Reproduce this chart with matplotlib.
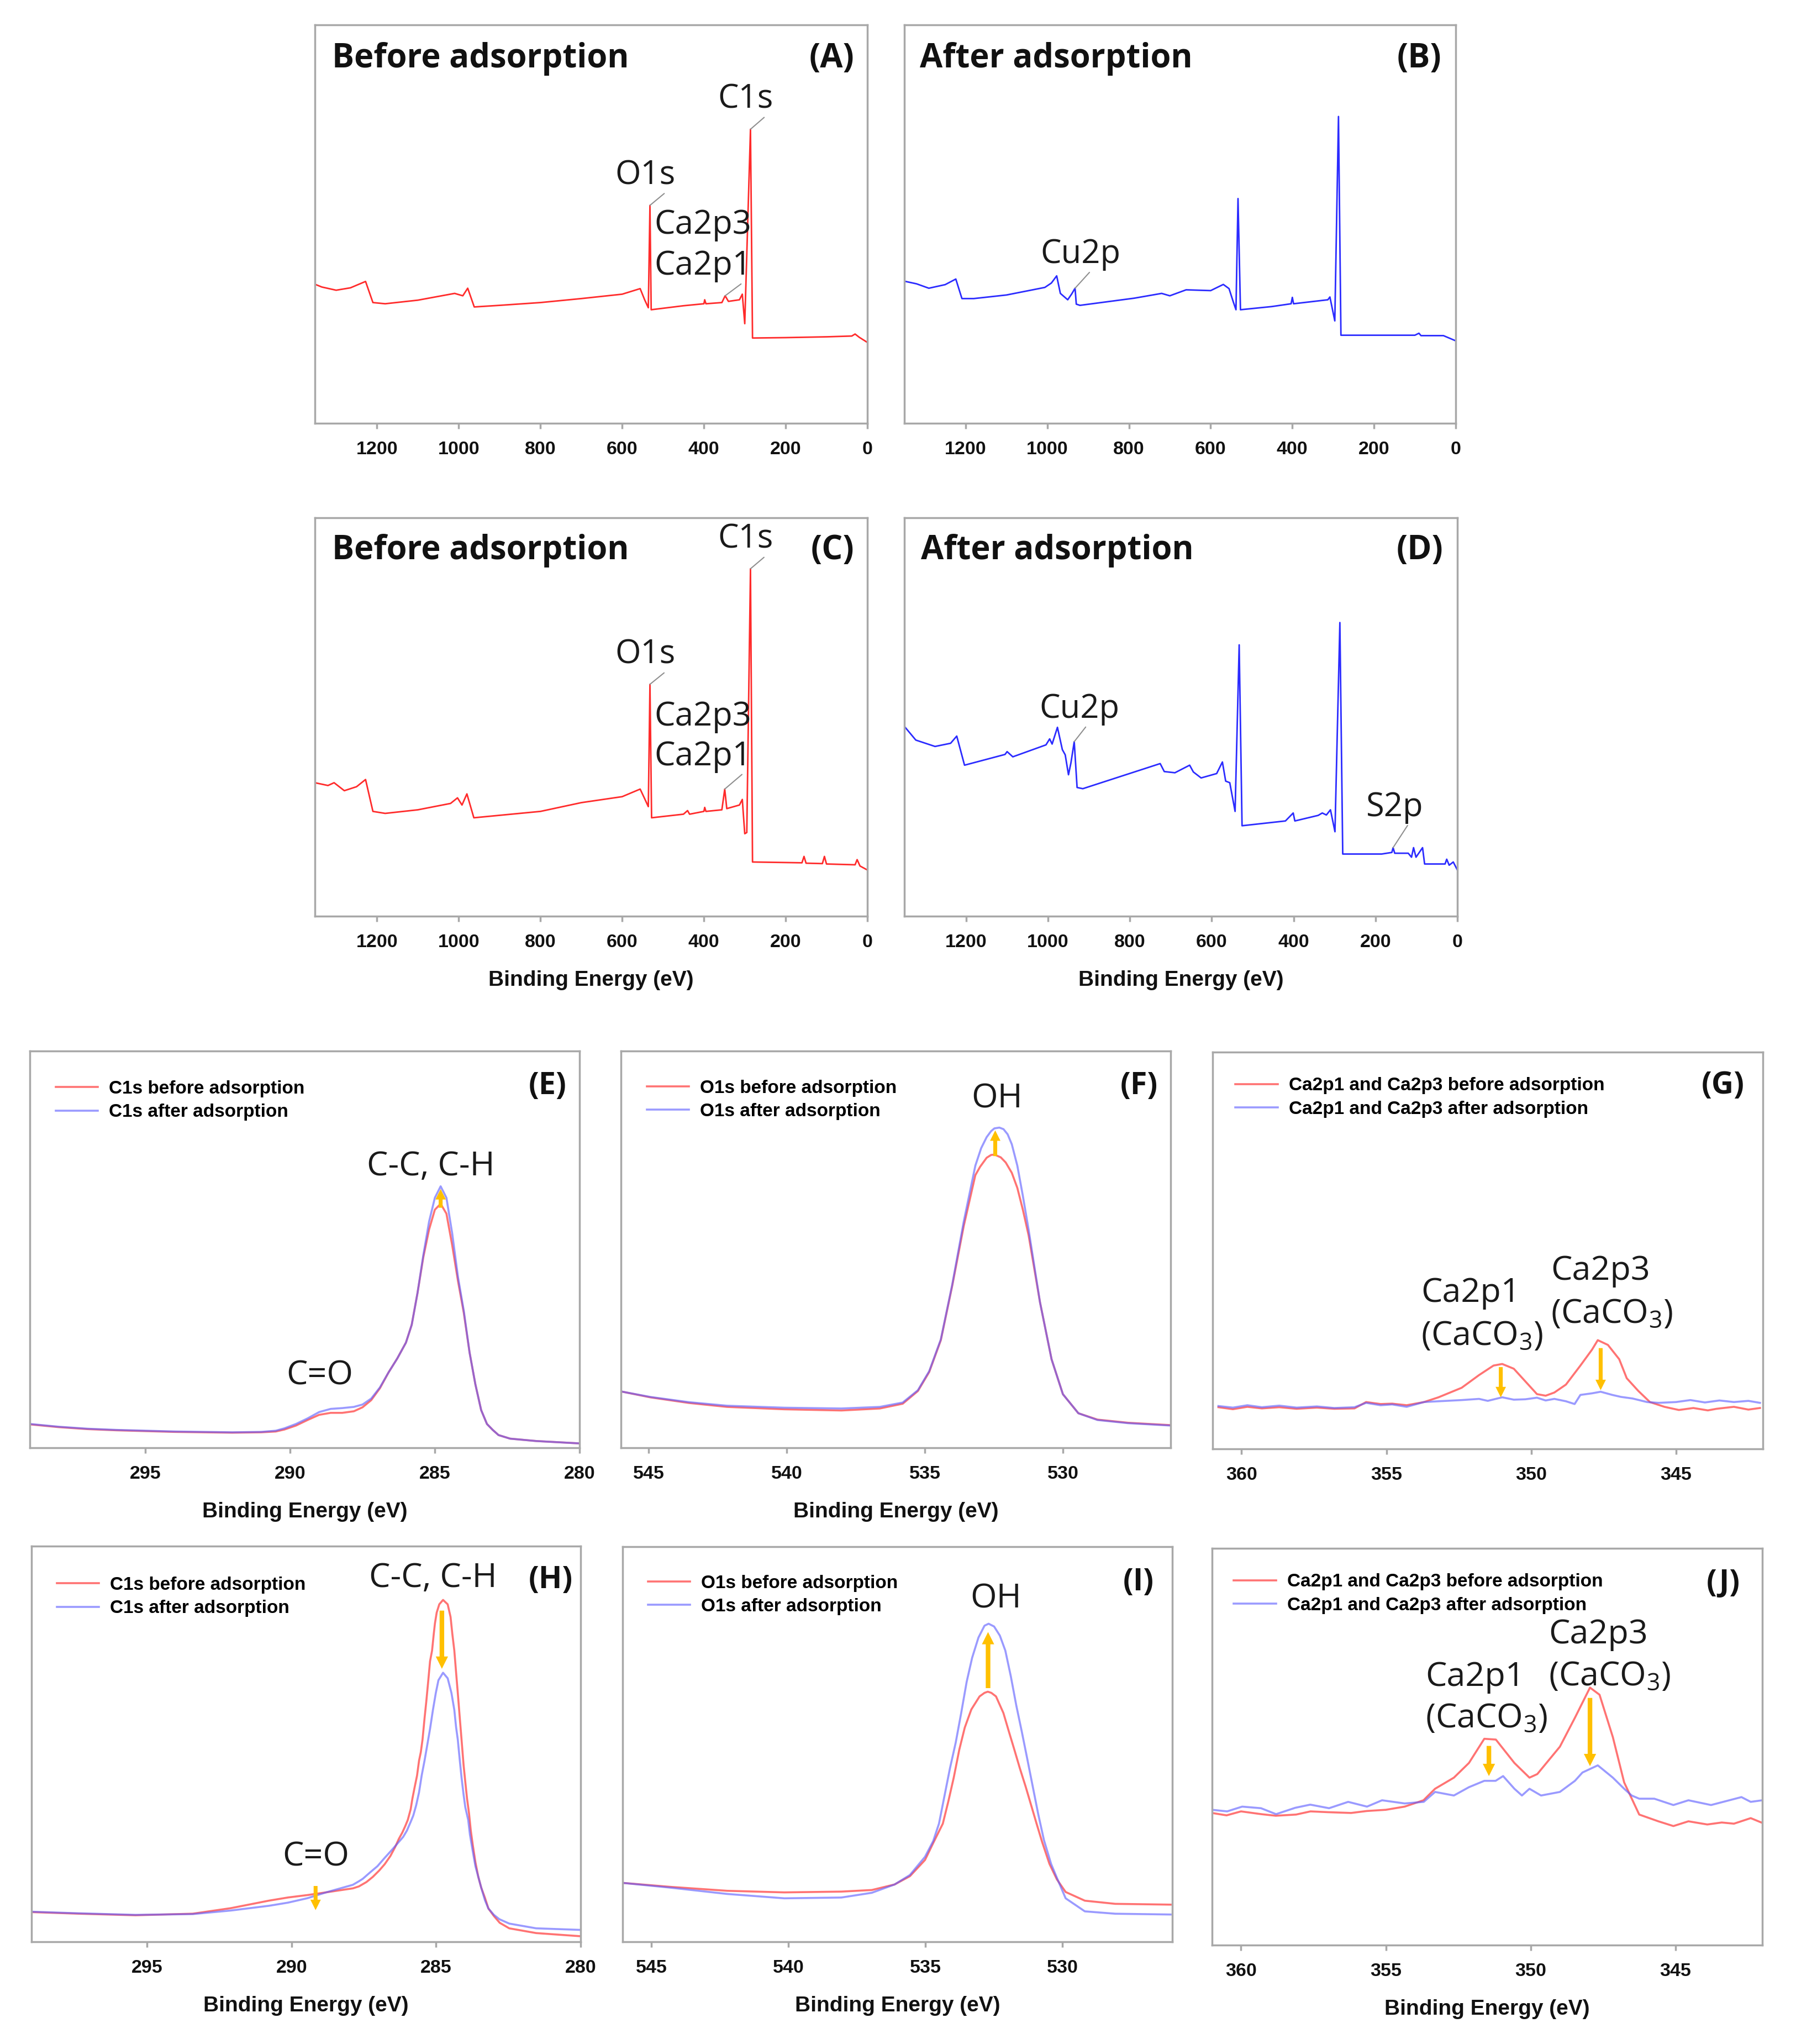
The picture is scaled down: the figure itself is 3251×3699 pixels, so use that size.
import numpy as np
import matplotlib
matplotlib.use("Agg")
import matplotlib.pyplot as plt

plt.rcParams["font.family"] = ["Liberation Sans", "DejaVu Sans"]
plt.rcParams["mathtext.fontset"] = "custom"
plt.rcParams["mathtext.rm"] = "Open Sans"
plt.rcParams["mathtext.it"] = "Open Sans"
plt.rcParams["mathtext.bf"] = "Open Sans:bold"

# ---------------- survey spectra: (binding energy eV, intensity a.u.) ----------------
survey_a = [(1352, 34.9), (1335, 34.2), (1300, 33.4), (1265, 34.0), (1228, 35.6), (1210, 30.3),
            (1180, 30.0), (1100, 30.9), (1010, 32.6), (990, 32.0), (978, 33.9), (962, 29.2),
            (900, 29.6), (800, 30.3), (700, 31.3), (600, 32.4), (556, 33.8), (545, 31.0),
            (536, 29.0), (532, 54.7), (529, 28.5), (450, 29.5), (400, 30.0), (398, 31.0),
            (395, 30.0), (356, 30.3), (348, 32.0), (340, 30.6), (313, 31.0), (306, 32.4),
            (300, 25.0), (286, 73.8), (281, 21.4), (200, 21.5), (100, 21.7), (38, 21.9),
            (30, 22.4), (20, 21.6), (0, 20.3)]
survey_b = [(1347, 35.6), (1320, 35.0), (1290, 33.9), (1250, 34.8), (1224, 36.2), (1209, 31.3),
            (1180, 31.3), (1100, 32.2), (1006, 34.1), (990, 35.2), (977, 37.0), (968, 32.6),
            (950, 31.0), (940, 32.5), (932, 33.9), (929, 29.9), (920, 29.6), (787, 31.4),
            (720, 32.6), (700, 32.0), (660, 33.5), (600, 33.3), (569, 34.85), (555, 33.8),
            (545, 30.6), (538, 28.5), (533, 56.4), (527, 28.5), (450, 29.3), (403, 30.0),
            (400, 31.6), (397, 30.0), (313, 31.0), (308, 31.7), (296, 25.7), (287, 77.0),
            (281, 22.1), (100, 22.1), (90, 22.6), (85, 22.0), (30, 22.0), (0, 20.7)]
survey_c = [(1352, 33.5), (1320, 32.8), (1305, 33.5), (1280, 31.5), (1250, 32.5), (1228, 34.3),
            (1210, 26.3), (1180, 25.8), (1100, 26.7), (1020, 28.3), (1003, 29.7), (992, 27.9),
            (980, 30.7), (963, 24.7), (800, 26.3), (700, 28.5), (600, 30.0), (556, 31.9),
            (545, 29.5), (536, 27.5), (532, 58.2), (528, 24.7), (450, 25.6), (440, 26.5),
            (435, 25.6), (400, 26.3), (398, 27.3), (395, 26.3), (356, 26.7), (349, 31.9),
            (344, 27.0), (313, 27.9), (306, 29.3), (300, 20.7), (295, 21.0), (286, 87.2),
            (281, 13.6), (160, 13.4), (155, 15.0), (150, 13.3), (110, 13.2), (105, 15.0),
            (100, 13.1), (30, 12.9), (25, 14.2), (18, 12.6), (0, 11.6)]
survey_d = [(1349, 47.4), (1323, 44.2), (1276, 42.6), (1238, 43.4), (1223, 45.2), (1204, 37.9),
            (1105, 40.6), (1100, 41.3), (1086, 40.0), (1005, 43.0), (996, 44.5), (990, 43.2),
            (977, 47.4), (965, 41.8), (958, 40.5), (950, 35.5), (944, 38.5), (936, 43.8),
            (929, 32.3), (915, 32.0), (726, 38.3), (716, 36.3), (690, 36.0), (654, 37.9),
            (645, 36.2), (626, 34.7), (588, 35.8), (574, 38.7), (566, 33.9), (556, 33.5),
            (543, 26.3), (533, 68.1), (526, 22.7), (420, 23.9), (401, 25.9), (397, 23.9),
            (340, 25.3), (330, 25.9), (320, 25.4), (310, 26.7), (299, 21.2), (287, 73.7),
            (280, 15.6), (185, 15.6), (160, 16.0), (157, 17.2), (153, 15.8), (120, 15.8),
            (112, 14.8), (107, 17.2), (101, 14.8), (85, 17.2), (80, 13.1), (30, 13.1),
            (26, 14.3), (20, 12.8), (10, 13.6), (0, 11.6)]

# ---------------- high resolution spectra ----------------
c1s_e_before = [(299.0, 5.9), (298.0, 5.2), (297.0, 4.7), (296.0, 4.4), (295.0, 4.2), (294.0, 4.0),
                (293.0, 3.9), (292.0, 3.8), (291.0, 3.9), (290.5, 4.1), (290.2, 4.6), (289.8, 5.6),
                (289.4, 7.0), (289.0, 8.3), (288.6, 8.8), (288.2, 8.8), (287.8, 9.2), (287.5, 10.2),
                (287.2, 12.0), (286.9, 15.0), (286.6, 19.0), (286.3, 22.5), (286.0, 26.5), (285.8, 31.0),
                (285.6, 39.0), (285.4, 48.0), (285.2, 55.0), (285.0, 60.0), (284.8, 61.5), (284.6, 59.0),
                (284.4, 51.0), (284.2, 42.0), (284.0, 34.0), (283.8, 24.0), (283.6, 16.0), (283.4, 9.5),
                (283.2, 6.0), (283.0, 4.5), (282.8, 3.2), (282.4, 2.3), (281.5, 1.7), (280.5, 1.3),
                (280.0, 1.1)]
c1s_e_after = [(299.0, 6.0), (298.0, 5.3), (297.0, 4.8), (296.0, 4.5), (295.0, 4.3), (294.0, 4.1),
               (293.0, 4.0), (292.0, 3.9), (291.0, 4.0), (290.5, 4.3), (290.2, 4.9), (289.8, 6.0),
               (289.4, 7.4), (289.0, 9.0), (288.6, 9.8), (288.2, 10.0), (287.8, 10.3), (287.5, 10.9),
               (287.2, 12.4), (286.9, 15.2), (286.6, 19.0), (286.3, 22.5), (286.0, 26.5), (285.8, 31.0),
               (285.6, 39.0), (285.4, 48.5), (285.2, 57.0), (285.0, 63.0), (284.8, 65.9), (284.6, 63.0),
               (284.4, 54.0), (284.2, 43.0), (284.0, 34.5), (283.8, 24.0), (283.6, 16.0), (283.4, 9.5),
               (283.2, 6.0), (283.0, 4.5), (282.8, 3.2), (282.4, 2.3), (281.5, 1.7), (280.5, 1.3),
               (280.0, 1.1)]
o1s_f_before = [(546.0, 14.2), (544.93, 12.7), (543.55, 11.3), (542.16, 10.3), (540.09, 9.7),
                (538.02, 9.4), (536.63, 9.9), (535.8, 11.1), (535.25, 14.3), (534.84, 19.1),
                (534.42, 27.1), (534.01, 40.7), (533.59, 55.9), (533.17, 68.7), (533.0, 70.8),
                (532.76, 73.1), (532.6, 73.8), (532.48, 73.9), (532.25, 73.2), (532.07, 71.9),
                (531.85, 69.3), (531.65, 65.5), (531.45, 60.0), (531.24, 53.5), (530.83, 36.7),
                (530.41, 22.3), (530.0, 13.5), (529.44, 8.7), (528.75, 7.1), (527.64, 6.3),
                (526.1, 5.7)]
o1s_f_after = [(546.0, 14.2), (544.93, 12.8), (543.55, 11.5), (542.16, 10.6), (540.09, 10.1),
               (538.02, 9.9), (536.63, 10.3), (535.8, 11.4), (535.25, 14.5), (534.84, 19.3),
               (534.42, 27.3), (534.01, 41.0), (533.59, 57.0), (533.17, 71.1), (532.96, 75.5),
               (532.76, 78.3), (532.6, 79.8), (532.48, 80.5), (532.3, 80.7), (532.15, 80.3),
               (532.0, 79.0), (531.85, 76.5), (531.65, 71.1), (531.45, 63.5), (531.24, 54.9),
               (530.83, 36.7), (530.41, 22.3), (530.0, 13.5), (529.44, 8.7), (528.75, 7.0),
               (527.64, 6.2), (526.1, 5.6)]
ca_g_before = [(360.8, 10.5), (360.3, 10.0), (359.8, 10.6), (359.3, 10.2), (358.7, 10.5), (358.1, 10.1),
               (357.4, 10.4), (356.8, 10.1), (356.1, 10.2), (355.7, 11.8), (355.2, 11.3), (354.8, 11.4),
               (354.3, 11.0), (353.7, 11.8), (353.2, 13.0), (352.4, 15.4), (351.8, 18.6), (351.3, 21.0),
               (351.0, 21.4), (350.6, 20.2), (350.2, 17.0), (349.8, 13.8), (349.5, 13.4), (349.2, 14.2),
               (348.8, 16.2), (348.3, 21.0), (347.9, 25.0), (347.7, 27.4), (347.35, 26.2), (346.96, 22.6),
               (346.7, 17.8), (346.3, 14.6), (345.9, 11.8), (345.4, 10.6), (344.9, 9.8), (344.4, 10.3),
               (343.9, 9.7), (343.6, 10.1), (343.0, 10.6), (342.5, 9.9), (342.1, 10.3)]
ca_g_after = [(360.8, 10.8), (360.3, 10.4), (359.8, 11.0), (359.3, 10.5), (358.7, 10.9), (358.1, 10.4),
              (357.4, 10.7), (356.8, 10.3), (356.1, 10.5), (355.7, 11.6), (355.2, 11.0), (354.8, 11.2),
              (354.3, 10.6), (353.7, 11.8), (353.2, 12.0), (352.4, 12.3), (351.8, 12.6), (351.5, 12.1),
              (351.0, 13.0), (350.6, 12.4), (350.2, 12.5), (349.8, 12.9), (349.5, 12.2), (349.2, 12.6),
              (348.8, 12.0), (348.5, 11.3), (348.3, 13.6), (347.9, 14.0), (347.6, 14.4), (347.2, 13.6),
              (346.9, 13.1), (346.5, 12.7), (346.0, 11.8), (345.6, 11.6), (345.0, 11.8), (344.5, 12.3),
              (344.0, 11.7), (343.5, 12.2), (343.0, 11.8), (342.5, 12.1), (342.1, 11.6)]

c1s_h_before = [(299.0, 7.5), (297.38, 7.1), (295.4, 6.7), (293.42, 7.1), (292.1, 8.5), (290.78, 10.4),
                (290.12, 11.2), (289.46, 11.8), (288.8, 12.5), (287.88, 13.5), (287.67, 14.0),
                (287.41, 15.1), (287.19, 16.4), (286.97, 18.0), (286.78, 19.6), (286.58, 21.7),
                (286.42, 23.9), (286.29, 26.0), (286.17, 27.6), (286.07, 29.2), (285.98, 30.8),
                (285.88, 33.5), (285.82, 36.2), (285.75, 38.8), (285.66, 42.0), (285.59, 45.8),
                (285.53, 47.9), (285.47, 51.1), (285.40, 56.5), (285.34, 60.7), (285.27, 66.1),
                (285.21, 70.9), (285.14, 73.6), (285.08, 77.9), (285.04, 80.5), (284.98, 83.2),
                (284.89, 85.3), (284.76, 86.4), (284.60, 85.3), (284.50, 82.1), (284.44, 77.9),
                (284.37, 73.6), (284.31, 68.2), (284.25, 62.9), (284.18, 56.5), (284.12, 51.1),
                (284.05, 44.7), (283.99, 40.4), (283.93, 36.2), (283.86, 32.4), (283.80, 28.1),
                (283.73, 24.4), (283.64, 20.1), (283.54, 16.4), (283.44, 13.7), (283.31, 11.1),
                (283.19, 8.4), (283.0, 6.5), (282.8, 4.8), (282.47, 3.4), (281.54, 2.2), (280.0, 1.4)]
c1s_h_after = [(299.0, 7.6), (297.38, 7.2), (295.4, 6.8), (293.42, 7.0), (292.1, 7.9), (290.78, 9.1),
               (290.12, 9.9), (289.46, 11.0), (288.8, 12.5), (287.88, 14.4), (287.67, 15.3),
               (287.54, 15.9), (287.29, 17.5), (287.03, 19.1), (286.78, 21.2), (286.52, 23.3),
               (286.33, 24.9), (286.14, 26.5), (286.01, 28.1), (285.88, 30.3), (285.79, 31.9),
               (285.69, 34.5), (285.59, 37.8), (285.50, 42.0), (285.40, 45.8), (285.30, 50.0),
               (285.21, 53.8), (285.11, 58.6), (285.01, 62.9), (284.92, 66.1), (284.76, 68.0),
               (284.60, 66.6), (284.47, 62.9), (284.37, 58.6), (284.31, 54.3), (284.25, 51.1),
               (284.18, 45.8), (284.12, 41.5), (284.05, 37.2), (283.99, 34.0), (283.89, 30.8),
               (283.83, 27.1), (283.73, 22.8), (283.64, 19.1), (283.54, 16.4), (283.44, 13.7),
               (283.31, 10.5), (283.19, 8.4), (283.0, 6.8), (282.81, 5.7), (282.47, 4.6),
               (281.54, 3.4), (280.0, 3.0)]
o1s_i_before = [(546.04, 14.9), (544.31, 13.9), (542.23, 12.9), (540.15, 12.5), (538.07, 12.7),
                (536.96, 13.1), (536.13, 14.5), (535.57, 16.6), (535.02, 20.7), (534.72, 25.0),
                (534.37, 29.9), (534.17, 35.5), (533.97, 41.6), (533.77, 48.6), (533.57, 54.2),
                (533.33, 58.8), (533.03, 62.1), (532.85, 63.0), (532.73, 63.3), (532.60, 63.0),
                (532.43, 62.1), (532.16, 57.9), (531.96, 53.2), (531.76, 48.6), (531.56, 43.9),
                (531.35, 39.3), (531.15, 34.6), (530.95, 29.9), (530.75, 25.3), (530.48, 19.7),
                (530.21, 15.8), (529.89, 12.6), (529.19, 10.4), (528.08, 9.6), (526.06, 9.4)]
o1s_i_after = [(546.04, 14.9), (544.31, 13.7), (542.23, 12.1), (540.15, 11.0), (538.07, 11.2),
               (536.96, 12.4), (536.13, 14.5), (535.57, 16.9), (535.02, 21.5), (534.72, 25.5),
               (534.51, 29.9), (534.31, 36.9), (534.11, 43.9), (533.90, 50.4), (533.70, 57.9),
               (533.50, 65.8), (533.30, 71.9), (533.07, 77.0), (532.85, 80.0), (532.70, 80.5),
               (532.50, 79.8), (532.29, 77.5), (532.09, 73.7), (531.89, 67.2), (531.69, 59.8),
               (531.49, 53.2), (531.29, 46.3), (531.09, 39.3), (530.89, 32.3), (530.68, 25.7),
               (530.42, 19.7), (530.21, 16.2), (529.89, 11.0), (529.19, 7.7), (528.08, 7.1),
               (526.06, 6.9)]
ca_j_before = [(361.0, 33.3), (360.5, 32.7), (360.0, 33.7), (359.3, 33.0), (358.8, 32.6), (358.1, 32.9),
               (357.6, 33.7), (357.0, 33.5), (356.2, 33.3), (355.65, 33.8), (355.0, 34.1), (354.35, 34.9),
               (353.7, 36.5), (353.3, 39.4), (352.65, 42.2), (352.13, 45.9), (351.6, 52.0), (351.2, 51.8),
               (350.56, 45.9), (350.04, 42.2), (349.77, 43.1), (348.99, 50.0), (348.47, 57.3),
               (347.95, 64.9), (347.62, 63.1), (347.16, 52.4), (346.77, 41.0), (346.25, 32.9),
               (345.59, 31.2), (345.07, 30.0), (344.55, 31.2), (343.9, 30.4), (343.4, 30.9),
               (342.98, 30.6), (342.4, 32.0), (342.0, 30.8)]
ca_j_after = [(361.0, 34.1), (360.48, 33.7), (359.96, 34.9), (359.31, 34.5), (358.79, 33.0), (358.13, 34.6),
              (357.61, 35.4), (356.96, 34.5), (356.3, 36.1), (355.65, 34.9), (355.13, 36.5), (354.35, 35.7),
              (353.69, 36.1), (353.3, 38.6), (352.65, 37.7), (352.13, 39.8), (351.6, 41.4), (351.21, 41.4),
              (350.95, 42.6), (350.56, 39.4), (350.3, 37.7), (350.04, 39.4), (349.64, 37.7), (348.99, 38.6),
              (348.47, 41.4), (348.21, 43.5), (347.68, 45.3), (347.16, 42.2), (346.77, 39.4), (346.51, 37.7),
              (346.25, 36.9), (345.73, 36.9), (345.07, 35.3), (344.55, 36.5), (343.77, 35.3), (342.72, 37.3),
              (342.4, 36.1), (342.0, 36.5)]

# ---------------- text ----------------
survey_ticks = [1200, 1000, 800, 600, 400, 200, 0]
c1s_ticks = [295, 290, 285, 280]
o1s_ticks = [545, 540, 535, 530]
ca_ticks = [360, 355, 350, 345]
xlab = "Binding Energy (eV)"
leg_c1s = ["C1s before adsorption", "C1s after adsorption"]
leg_o1s = ["O1s before adsorption", "O1s after adsorption"]
leg_ca = ["Ca2p1 and Ca2p3 before adsorption", "Ca2p1 and Ca2p3 after adsorption"]

# survey peak labels: text, text position, peak position, where the leader leaves the text
labels_a = [("C1s", (365.6, 79.1), (286, 73.8), (0.97, 0.15)),
            ("O1s", (617, 60.0), (532, 54.7), (0.93, 0.13)),
            ("Ca2p3", (521.6, 47.6), None, None),
            ("Ca2p1", (521.6, 37.3), (348, 32.0), (0.97, 0.12))]
labels_b = [("Cu2p", (1017, 40.2), (932, 33.9), (0.66, 0.08))]
labels_c = [("C1s", (365.6, 92.4), (286, 87.2), (0.97, 0.15)),
            ("O1s", (617, 63.4), (532, 58.2), (0.93, 0.13)),
            ("Ca2p3", (521.6, 47.9), None, None),
            ("Ca2p1", (521.6, 37.9), (349, 31.9), (0.97, 0.12))]
labels_d = [("Cu2p", (1021.6, 49.8), (936, 43.8), (0.64, 0.14)),
            ("S2p", (223, 25.1), (157, 17.2), (0.75, 0.02))]

W, H = 3251, 3699
GRAY = "#a8a8a8"
LEAD = "#8f8f8f"
TXT = "#1a1a1a"
YEL = "#ffc000"
RED_S, BLUE_S = "#ff2b2b", "#2b2bff"
RED_H, BLUE_H = "#ff7373", "#5c5cff"

fig = plt.figure(figsize=(W / 100, H / 100), dpi=100)


def make_ax(l, t, r, b):
    return fig.add_axes([l / W, 1 - b / H, (r - l) / W, (b - t) / H])


def frame(ax, xlim, ticks, with_label):
    ax.set_xlim(xlim)
    ax.set_ylim(0, 100)
    ax.set_xticks(ticks, labels=[str(t) for t in ticks], fontweight="bold")
    ax.set_yticks([])
    for s in ax.spines.values():
        s.set_color(GRAY)
        s.set_linewidth(2.5)
    ax.tick_params(axis="x", direction="out", length=7, width=2.5, color=GRAY,
                   pad=16, labelsize=24.5, labelcolor="#111111")
    if with_label:
        ax.set_xlabel(xlab, fontsize=28, fontweight="bold", labelpad=25, color="#111111")


def corner(ax, title, tag, size, tx, ty):
    if title:
        ax.text(tx, ty, title, transform=ax.transAxes, family="Open Sans", fontweight="bold",
                fontsize=43, ha="left", va="baseline", color="#111111")
    ax.text(tag[0], tag[1], tag[2], transform=ax.transAxes, family="Open Sans", fontweight="bold",
            fontsize=size, ha="right", va="baseline", color="#111111")


def survey(ax, pts, color, labels):
    e, y = np.array(pts).T
    ax.plot(e, y, color=color, lw=2.0)
    for text, txy, pxy, rel in labels:
        if pxy is None:
            ax.text(txy[0], txy[1], text, family="Open Sans", fontsize=43, color=TXT,
                    ha="left", va="baseline")
        else:
            ax.annotate(text, xy=pxy, xytext=txy, family="Open Sans", fontsize=43, color=TXT,
                        ha="left", va="baseline",
                        arrowprops=dict(arrowstyle="-", color=LEAD, lw=1.5, shrinkA=0,
                                        shrinkB=0, relpos=rel))


def pair(ax, before, after, names, anchor):
    e1, y1 = np.array(before).T
    e2, y2 = np.array(after).T
    ax.plot(e1, y1, color=RED_H, lw=2.6, label=names[0])
    ax.plot(e2, y2, color=BLUE_H, lw=2.6, alpha=0.62, label=names[1])
    ax.legend(loc="upper left", bbox_to_anchor=anchor, frameon=False, borderpad=0,
              borderaxespad=0, handlelength=2.3, handletextpad=0.6, labelspacing=0.34,
              prop=dict(family="Liberation Sans", weight="bold", size=24))


def arrow(ax, x, y0, y1, big=True):
    style = "simple,head_length=0.8,head_width=0.8,tail_width=0.3"
    ax.annotate("", xy=(x, y1), xytext=(x, y0),
                arrowprops=dict(arrowstyle=style, color=YEL, mutation_scale=20 if big else 17,
                                shrinkA=0, shrinkB=0, lw=0))


def note(ax, x, y, text):
    ax.text(x, y, text, family="Open Sans", fontsize=44, color=TXT, ha="left", va="baseline")


# ---- survey panels ----
ax_a = make_ax(570, 45, 1570, 766)
frame(ax_a, (1352, 0), survey_ticks, False)
survey(ax_a, survey_a, RED_S, labels_a)
corner(ax_a, "Before adsorption", (0.976, 0.893, "(A)"), 43, 0.031, 0.893)

ax_b = make_ax(1637, 45, 2635, 766)
frame(ax_b, (1350, 0), survey_ticks, False)
survey(ax_b, survey_b, BLUE_S, labels_b)
corner(ax_b, "After adsorption", (0.974, 0.893, "(B)"), 43, 0.028, 0.893)

ax_c = make_ax(570, 937, 1570, 1658)
frame(ax_c, (1352, 0), survey_ticks, True)
survey(ax_c, survey_c, RED_S, labels_c)
corner(ax_c, "Before adsorption", (0.976, 0.896, "(C)"), 43, 0.031, 0.896)

ax_d = make_ax(1637, 937, 2638, 1658)
frame(ax_d, (1351, 0), survey_ticks, True)
survey(ax_d, survey_d, BLUE_S, labels_d)
corner(ax_d, "After adsorption", (0.974, 0.896, "(D)"), 43, 0.0295, 0.896)

# ---- high resolution, first row ----
ax_e = make_ax(54, 1902, 1049, 2620)
frame(ax_e, (299, 280), c1s_ticks, True)
pair(ax_e, c1s_e_before, c1s_e_after, leg_c1s, (0.047, 0.926))
arrow(ax_e, 284.8, 60.5, 65.2, big=False)
note(ax_e, 287.36, 68.7, "C-C, C-H")
note(ax_e, 290.13, 15.9, "C=O")
corner(ax_e, None, (0.977, 0.891, "(E)"), 40, 0, 0)

ax_f = make_ax(1124, 1902, 2119, 2620)
frame(ax_f, (546, 526.1), o1s_ticks, True)
pair(ax_f, o1s_f_before, o1s_f_after, leg_o1s, (0.047, 0.928))
arrow(ax_f, 532.45, 73.5, 80.0, big=False)
note(ax_f, 533.32, 85.7, "OH")
corner(ax_f, None, (0.977, 0.891, "(F)"), 40, 0, 0)

ax_g = make_ax(2195, 1904, 3191, 2622)
frame(ax_g, (361, 342), ca_ticks, False)
pair(ax_g, ca_g_before, ca_g_after, leg_ca, (0.041, 0.937))
arrow(ax_g, 351.05, 20.6, 13.0, big=False)
arrow(ax_g, 347.6, 25.4, 14.8, big=False)
note(ax_g, 353.8, 37.0, "Ca2p1")
note(ax_g, 353.8, 26.2, "(CaCO$_3$)")
note(ax_g, 349.33, 42.6, "Ca2p3")
note(ax_g, 349.33, 31.8, "(CaCO$_3$)")
corner(ax_g, None, (0.967, 0.895, "(G)"), 40, 0, 0)

# ---- high resolution, second row ----
ax_h = make_ax(57, 2798, 1051, 3514)
frame(ax_h, (299, 280), c1s_ticks, True)
pair(ax_h, c1s_h_before, c1s_h_after, leg_c1s, (0.046, 0.923))
arrow(ax_h, 284.8, 83.7, 69.0)
arrow(ax_h, 289.17, 14.1, 8.0, big=False)
note(ax_h, 287.32, 89.6, "C-C, C-H")
note(ax_h, 290.32, 19.2, "C=O")
corner(ax_h, None, (0.986, 0.894, "(H)"), 40, 0, 0)

ax_i = make_ax(1127, 2799, 2122, 3514)
frame(ax_i, (546.05, 526), o1s_ticks, True)
pair(ax_i, o1s_i_before, o1s_i_after, leg_o1s, (0.046, 0.929))
arrow(ax_i, 532.72, 64.2, 78.4)
note(ax_i, 533.38, 84.5, "OH")
corner(ax_i, None, (0.967, 0.890, "(I)"), 40, 0, 0)

ax_j = make_ax(2194, 2802, 3190, 3520)
frame(ax_j, (361, 342), ca_ticks, True)
pair(ax_j, ca_j_before, ca_j_after, leg_ca, (0.039, 0.937))
arrow(ax_j, 351.44, 50.2, 42.6)
arrow(ax_j, 347.95, 62.3, 45.1)
note(ax_j, 353.63, 65.3, "Ca2p1")
note(ax_j, 353.63, 54.9, "(CaCO$_3$)")
note(ax_j, 349.38, 76.0, "Ca2p3")
note(ax_j, 349.38, 65.5, "(CaCO$_3$)")
corner(ax_j, None, (0.960, 0.891, "(J)"), 40, 0, 0)

fig.savefig("out.png", dpi=100, facecolor="white")
